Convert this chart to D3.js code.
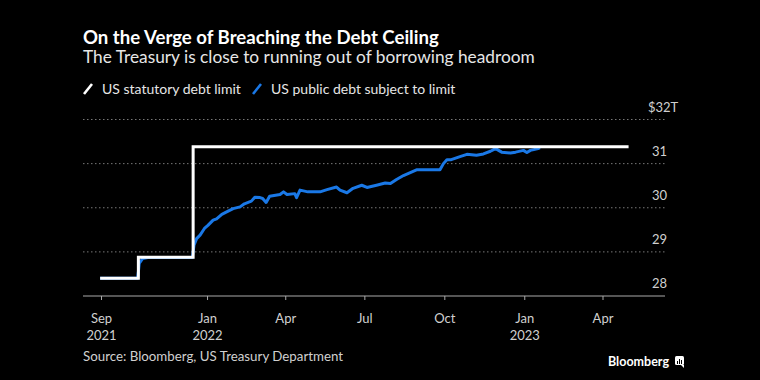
<!DOCTYPE html>
<html>
<head>
<meta charset="utf-8">
<script src="https://cdn.jsdelivr.net/npm/d3@7"></script>
<style>
  html, body { margin: 0; padding: 0; background: #000; }
  svg { display: block; }
  text { font-family: Lato, "Open Sans", sans-serif; }
</style>
</head>
<body>
<svg id="chart" width="760" height="380"></svg>
<script>
// ---- data ----
const limitDates = ["2021-08-31", "2021-10-14", "2021-12-16", "2023-05-01"];
const limitValues = [28.401, 28.881, 31.381, 31.381];

const debtDates = [
  "2021-08-31","2021-10-13","2021-10-14","2021-10-15","2021-10-19","2021-10-25","2021-12-15","2021-12-16",
  "2021-12-17","2021-12-20","2021-12-24","2021-12-29","2022-01-02","2022-01-08","2022-01-12","2022-01-18",
  "2022-01-23","2022-01-31","2022-02-08","2022-02-13","2022-02-21","2022-02-25","2022-03-03","2022-03-06",
  "2022-03-10","2022-03-14","2022-03-26","2022-03-30","2022-04-03","2022-04-12","2022-04-14","2022-04-18",
  "2022-04-27","2022-05-11","2022-05-19","2022-05-30","2022-06-03","2022-06-11","2022-06-18","2022-06-28",
  "2022-07-04","2022-07-15","2022-07-25","2022-07-31","2022-08-07","2022-08-15","2022-08-30","2022-09-26",
  "2022-09-30","2022-10-04","2022-10-09","2022-10-19","2022-10-27","2022-11-07","2022-11-15","2022-11-23",
  "2022-11-29","2022-12-06","2022-12-16","2022-12-22","2022-12-31","2023-01-04","2023-01-08","2023-01-17",
  "2023-01-19"
];
const debtValues = [
  28.40, 28.40, 28.55, 28.74, 28.85, 28.87, 28.87, 29.00,
  29.15, 29.30, 29.38, 29.53, 29.60, 29.72, 29.75, 29.85,
  29.90, 29.98, 30.02, 30.09, 30.15, 30.24, 30.23, 30.21,
  30.12, 30.26, 30.30, 30.36, 30.30, 30.32, 30.23, 30.40,
  30.36, 30.36, 30.41, 30.47, 30.40, 30.34, 30.44, 30.51,
  30.46, 30.51, 30.56, 30.55, 30.64, 30.73, 30.86, 30.86,
  31.00, 31.09, 31.09, 31.16, 31.21, 31.19, 31.22, 31.28,
  31.34, 31.26, 31.24, 31.26, 31.30, 31.25, 31.30, 31.34,
  31.36
];

const yTicks = [28, 29, 30, 31, 32];
const xTickDates = ["2021-09-01","2022-01-01","2022-04-01","2022-07-01","2022-10-01","2023-01-01","2023-04-01"];
const xTickMonths = ["Sep","Jan","Apr","Jul","Oct","Jan","Apr"];
const xTickYears = ["2021","2022","","","","2023",""];

const seriesNames = ["US statutory debt limit", "US public debt subject to limit"];
const seriesColors = ["#ffffff", "#1a78e6"];

const title = "On the Verge of Breaching the Debt Ceiling";
const subtitle = "The Treasury is close to running out of borrowing headroom";
const source = "Source: Bloomberg, US Treasury Department";

// ---- layout ----
const parse = d3.utcParse("%Y-%m-%d");
const svg = d3.select("#chart");
svg.append("rect").attr("width", 760).attr("height", 380).attr("fill", "#000");

const gridLeft = 83, gridRight = 665;
const x = d3.scaleUtc()
  .domain([parse("2021-09-01"), parse("2023-04-01")])
  .range([101, 602.5]);
const y = d3.scaleLinear().domain([28, 32]).range([296, 119.5]);

// titles
svg.append("text").attr("x", 83).attr("y", 44).attr("fill", "#fff")
  .attr("font-size", 18.6).attr("font-weight", 700).text(title);
svg.append("text").attr("x", 83).attr("y", 63).attr("fill", "#e6e6e6")
  .attr("font-size", 17.3).text(subtitle);

// legend
const leg = svg.append("g");
const legX = [83, 252];
seriesNames.forEach((n, i) => {
  leg.append("line").attr("x1", legX[i] + 1).attr("y1", 94).attr("x2", legX[i] + 9).attr("y2", 84)
    .attr("stroke", seriesColors[i]).attr("stroke-width", 2.6).attr("stroke-linecap", "butt");
  leg.append("text").attr("x", legX[i] + 19).attr("y", 93.5).attr("fill", "#e6e6e6")
    .attr("font-size", 14).text(n);
});

// gridlines
svg.append("g").selectAll("line").data(yTicks.filter(t => t !== 28)).join("line")
  .attr("x1", gridLeft).attr("x2", gridRight)
  .attr("y1", d => y(d)).attr("y2", d => y(d))
  .attr("stroke", "#777").attr("stroke-width", 1).attr("stroke-dasharray", "1.5,2.5");

// y labels
svg.append("g").selectAll("text").data(yTicks).join("text")
  .attr("x", d => d === 32 ? 648 : 652)
  .attr("y", d => y(d) - 8)
  .attr("fill", "#d0d0d0").attr("font-size", 13)
  .text(d => d === 32 ? "$32T" : d);

// x axis
const xAxis = d3.axisBottom(x)
  .tickValues(xTickDates.map(parse))
  .tickSize(4)
  .tickFormat("");
const gx = svg.append("g").attr("transform", "translate(0,296)").call(xAxis);
gx.select(".domain").remove();
gx.selectAll(".tick line").attr("stroke", "#aaa");
svg.append("line").attr("x1", gridLeft).attr("x2", gridRight).attr("y1", 296).attr("y2", 296)
  .attr("stroke", "#aaa").attr("stroke-width", 1);
gx.selectAll(".tick").each(function(d, i) {
  const t = d3.select(this).append("text").attr("fill", "#d0d0d0").attr("font-size", 13)
    .attr("text-anchor", "middle").attr("font-family", "Lato, sans-serif");
  t.append("tspan").attr("x", 0).attr("y", 27).text(xTickMonths[i]);
  if (xTickYears[i]) t.append("tspan").attr("x", 0).attr("y", 44).text(xTickYears[i]);
});

// lines
const debtData = debtDates.map((d, i) => ({ date: parse(d), v: debtValues[i] }));
const limitData = limitDates.map((d, i) => ({ date: parse(d), v: limitValues[i] }));

svg.append("path").datum(debtData)
  .attr("fill", "none").attr("stroke", seriesColors[1]).attr("stroke-width", 3)
  .attr("stroke-linejoin", "round")
  .attr("d", d3.line().x(d => x(d.date)).y(d => y(d.v)));

svg.append("path").datum(limitData)
  .attr("fill", "none").attr("stroke", seriesColors[0]).attr("stroke-width", 3)
  .attr("d", d3.line().curve(d3.curveStepAfter).x(d => x(d.date)).y(d => y(d.v)));

// footer
svg.append("text").attr("x", 83).attr("y", 361).attr("fill", "#d0d0d0")
  .attr("font-size", 13.3).text(source);
svg.append("text").attr("x", 608).attr("y", 366).attr("fill", "#fff")
  .attr("font-size", 12.5).attr("font-weight", 700).attr("font-family", "Arial, 'Liberation Sans', sans-serif")
  .text("Bloomberg");
const logo = svg.append("g").attr("transform", "translate(675,356)");
logo.append("rect").attr("width", 9).attr("height", 9).attr("rx", 1.5).attr("fill", "#fff");
logo.append("path").attr("d", "M6,9 L9,12 L9,9 Z").attr("fill", "#fff");
[[2,5,1,3],[4,3,1,5],[6,4,1,4]].forEach(b =>
  logo.append("rect").attr("x", b[0]).attr("y", b[1]).attr("width", b[2]).attr("height", b[3]).attr("fill", "#000"));
</script>
</body>
</html>
